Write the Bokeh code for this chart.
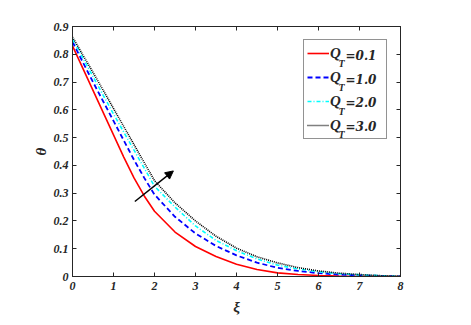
from bokeh.plotting import figure
from bokeh.models import (Range1d, LinearAxis, FixedTicker, CustomJSTickFormatter,
                          Legend, LegendItem, Label, Arrow, NormalHead)
from bokeh.embed import file_html
from bokeh.resources import INLINE

# ---- data ----
xi = [0.0, 0.25, 0.5, 0.75, 1.0, 1.25, 1.5, 1.75, 2.0, 2.5, 3.0, 3.5, 4.0, 4.5,
      5.0, 5.5, 6.0, 6.5, 7.0, 7.5, 8.0]
theta_q01 = [0.830, 0.750, 0.670, 0.590, 0.510, 0.430, 0.355, 0.290, 0.235, 0.160,
             0.108, 0.072, 0.044, 0.025, 0.013, 0.007, 0.0035, 0.002, 0.001, 0.0005, 0.0]
theta_q10 = [0.845, 0.772, 0.700, 0.630, 0.560, 0.490, 0.420, 0.355, 0.295, 0.215,
             0.155, 0.110, 0.076, 0.050, 0.031, 0.020, 0.012, 0.007, 0.004, 0.002, 0.0]
theta_q20 = [0.855, 0.787, 0.720, 0.652, 0.585, 0.520, 0.455, 0.390, 0.325, 0.250,
             0.182, 0.130, 0.093, 0.063, 0.041, 0.027, 0.017, 0.010, 0.006, 0.003, 0.0]
theta_q30 = [0.862, 0.798, 0.735, 0.670, 0.605, 0.540, 0.475, 0.410, 0.345, 0.265,
             0.200, 0.145, 0.102, 0.071, 0.049, 0.032, 0.020, 0.012, 0.007, 0.003, 0.001]
qt_values = ["0.1", "1.0", "2.0", "3.0"]
x_ticks = [0, 1, 2, 3, 4, 5, 6, 7, 8]
y_ticks = [0, 0.1, 0.2, 0.3, 0.4, 0.5, 0.6, 0.7, 0.8, 0.9]
arrow_from = (1.52, 0.27)
arrow_to = (2.46, 0.38)

FONT = "Liberation Serif"
AXC = "#262626"

# frame geometry (pixels in page) used for placing legend sub-texts
FL, FR, FT, FB = 72, 400, 26, 278
XMAX, YMAX = 8.0, 0.9


def px2x(px):
    return (px - FL) / (FR - FL) * XMAX


def py2y(py):
    return (FB - py) / (FB - FT) * YMAX


p = figure(width=463, height=317, output_backend="svg", toolbar_location=None,
           x_range=Range1d(0, 8), y_range=Range1d(0, 0.9),
           min_border_left=72, min_border_right=63, min_border_top=26,
           min_border_bottom=39)
p.xgrid.visible = False
p.ygrid.visible = False
p.outline_line_color = AXC
p.outline_line_width = 1
p.background_fill_color = "white"
p.border_fill_color = "white"

fmt = CustomJSTickFormatter(code="return tick == 0 ? '0' : (Number.isInteger(tick) ? tick.toString() : tick.toFixed(1));")
blank = CustomJSTickFormatter(code="return '';")


def style_axis(ax, ticks, show_labels=True):
    ax.ticker = FixedTicker(ticks=ticks)
    ax.major_tick_in = 4
    ax.major_tick_out = 0
    ax.minor_tick_in = 0
    ax.minor_tick_out = 0
    ax.axis_line_color = AXC
    ax.axis_line_width = 1
    ax.major_tick_line_color = AXC
    ax.major_label_text_font = FONT
    ax.major_label_text_font_style = "bold italic"
    ax.major_label_text_color = AXC
    ax.major_label_text_font_size = "12px"
    if show_labels:
        ax.formatter = fmt
    else:
        ax.formatter = blank
        ax.major_label_standoff = 0


style_axis(p.xaxis[0], x_ticks)
style_axis(p.yaxis[0], y_ticks)
p.xaxis[0].major_label_standoff = 5
p.yaxis[0].major_label_standoff = 4
p.xaxis[0].axis_label = "ξ"
p.yaxis[0].axis_label = "θ"
for ax in (p.xaxis[0], p.yaxis[0]):
    ax.axis_label_text_font = FONT
    ax.axis_label_text_font_style = "bold italic"
    ax.axis_label_text_font_size = "15px"
    ax.axis_label_text_color = AXC
p.xaxis[0].axis_label_standoff = 6
p.yaxis[0].axis_label_standoff = 2

ax_top = LinearAxis()
style_axis(ax_top, x_ticks, show_labels=False)
p.add_layout(ax_top, "above")
ax_right = LinearAxis()
style_axis(ax_right, y_ticks, show_labels=False)
p.add_layout(ax_right, "right")

r1 = p.line(xi, theta_q01, line_color="#ff0000", line_width=1.6)
r2 = p.line(xi, theta_q10, line_color="#0000ff", line_width=1.8, line_dash="5 3")
r3 = p.line(xi, theta_q20, line_color="#00ffff", line_width=1.6, line_dash="4 2 1 2")
r4 = p.line(xi, theta_q30, line_color="#000000", line_width=1.6, line_dash="1 1")

p.add_layout(Arrow(end=NormalHead(size=8, fill_color="black", line_color="black"),
                   x_start=arrow_from[0], y_start=arrow_from[1],
                   x_end=arrow_to[0], y_end=arrow_to[1],
                   line_color="black", line_width=1.5))

legend = Legend(items=[LegendItem(label="Q", renderers=[r]) for r in (r1, r2, r3, r4)],
                location="top_right", margin=13, padding=3, spacing=4,
                label_height=20, glyph_height=20, glyph_width=22, label_standoff=1,
                label_width=53, border_line_color=AXC, border_line_width=1,
                label_text_font=FONT, label_text_font_style="bold italic",
                label_text_font_size="15px", label_text_color=AXC,
                background_fill_alpha=0.0)
p.add_layout(legend)

for i, q in enumerate(qt_values):
    p.add_layout(Label(x=px2x(338), y=py2y(63.3 + 24 * i), text="T",
                       text_font=FONT, text_font_style="bold italic",
                       text_font_size="10px", text_color=AXC,
                       text_baseline="alphabetic"))
    p.add_layout(Label(x=px2x(345), y=py2y(55.5 + 24 * i), text="=" + q,
                       text_font="DejaVu Serif", text_font_style="bold italic",
                       text_font_size="12px", text_color=AXC,
                       text_baseline="alphabetic"))

open("out.html", "w").write(file_html(p, INLINE))
